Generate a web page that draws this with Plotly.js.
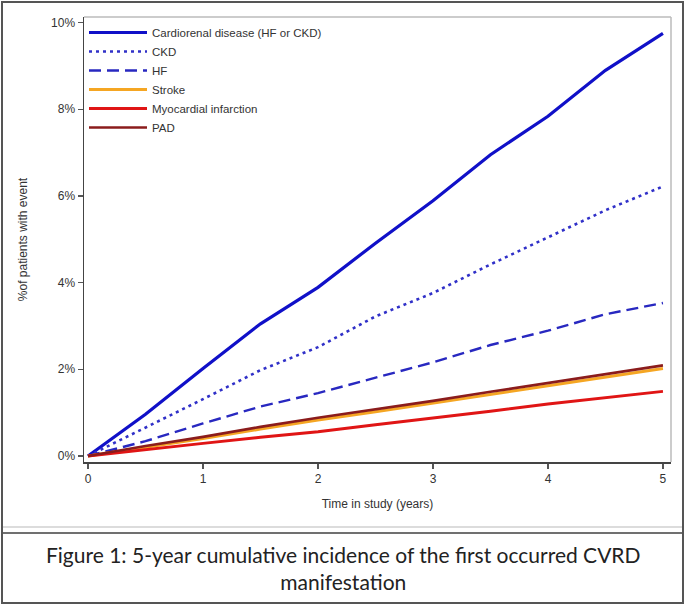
<!DOCTYPE html>
<html>
<head>
<meta charset="utf-8">
<script src="https://cdn.plot.ly/plotly-3.0.1.min.js"></script>
<style>html,body{margin:0;padding:0;background:#fff;}#chart{width:685px;height:605px;}</style>
</head>
<body>
<div id="chart"></div>
<script>
// Data (years, % of patients with event)
var years = [0, 0.5, 1, 1.5, 2, 2.5, 3, 3.5, 4, 4.5, 5];
var cardiorenal = [0, 0.96, 2.02, 3.05, 3.89, 4.91, 5.89, 6.95, 7.84, 8.90, 9.75];
var ckd = [0, 0.65, 1.31, 1.98, 2.51, 3.22, 3.76, 4.42, 5.04, 5.67, 6.22];
var hf = [0, 0.34, 0.75, 1.14, 1.45, 1.80, 2.16, 2.56, 2.89, 3.27, 3.53];
var stroke = [0, 0.20, 0.40, 0.62, 0.83, 1.02, 1.22, 1.42, 1.62, 1.82, 2.02];
var mi = [0, 0.15, 0.29, 0.43, 0.56, 0.72, 0.87, 1.03, 1.20, 1.35, 1.49];
var pad = [0, 0.23, 0.44, 0.67, 0.88, 1.07, 1.27, 1.48, 1.68, 1.89, 2.09];
var seriesNames = ['Cardiorenal disease (HF or CKD)', 'CKD', 'HF', 'Stroke', 'Myocardial infarction', 'PAD'];
var yTicks = [0, 2, 4, 6, 8, 10];
var xTicks = [0, 1, 2, 3, 4, 5];
var xTitle = 'Time in study (years)';
var yTitle = '%of patients with event';
var captionText = 'Figure 1: 5-year cumulative incidence of the first occurred CVRD<br>manifestation';

var chartFont = '"Liberation Sans Narrow", "Arial Narrow", "Liberation Sans", Arial, sans-serif';

var traces = [
  {x: years, y: cardiorenal, name: seriesNames[0], line: {color: '#1010c8', width: 3.2}},
  {x: years, y: ckd, name: seriesNames[1], line: {color: '#3030c8', width: 2.6, dash: '3px,4px'}},
  {x: years, y: hf, name: seriesNames[2], line: {color: '#2828c0', width: 2.4, dash: '12px,6px'}},
  {x: years, y: stroke, name: seriesNames[3], line: {color: '#f5a623', width: 3}},
  {x: years, y: mi, name: seriesNames[4], line: {color: '#e01515', width: 3}},
  {x: years, y: pad, name: seriesNames[5], line: {color: '#8b1c1c', width: 2.6}}
].map(function (t) { t.type = 'scatter'; t.mode = 'lines'; return t; });

// pixel -> paper helpers for decorations
var L = 84, R = 671, T = 17, B = 462;
function px(x) { return (x - L) / (R - L); }
function py(y) { return (B - y) / (B - T); }

var layout = {
  width: 685, height: 605,
  margin: {l: L, r: 685 - R, t: T, b: 605 - B, pad: 0},
  paper_bgcolor: '#ffffff', plot_bgcolor: '#ffffff',
  font: {family: chartFont, size: 12, color: '#333'},
  showlegend: true,
  legend: {
    x: px(84), y: py(18), xanchor: 'left', yanchor: 'top',
    bgcolor: 'rgba(0,0,0,0)', borderwidth: 0,
    font: {family: chartFont, size: 11.5, color: '#333'},
    itemwidth: 58, tracegroupgap: 0
  },
  xaxis: {
    range: [-0.035, 5.07], tickvals: xTicks, ticktext: xTicks.map(String),
    showgrid: false, zeroline: false, showline: true, linecolor: '#444', linewidth: 1.5,
    ticks: 'outside', ticklen: 5, tickcolor: '#555', tickwidth: 1.2,
    tickfont: {family: chartFont, size: 12, color: '#333'},
    title: {text: xTitle, font: {family: chartFont, size: 12, color: '#333'}, standoff: 14}
  },
  yaxis: {
    range: [-0.14, 10.13], tickvals: yTicks, ticktext: yTicks.map(function (v) { return v + '%'; }),
    showgrid: false, zeroline: false, showline: true, linecolor: '#444', linewidth: 1.5,
    ticks: 'outside', ticklen: 5, tickcolor: '#555', tickwidth: 1.2,
    tickfont: {family: chartFont, size: 12, color: '#333'},
    title: {text: yTitle, font: {family: chartFont, size: 12, color: '#333'}, standoff: 21}
  },
  shapes: [
    {type: 'line', xref: 'paper', yref: 'paper', x0: px(L), x1: px(R), y0: 1, y1: 1, line: {color: '#bbbbbb', width: 1.5}},
    {type: 'line', xref: 'paper', yref: 'paper', x0: 1, x1: 1, y0: 0, y1: 1, line: {color: '#bbbbbb', width: 1.5}},
    {type: 'line', xref: 'paper', yref: 'paper', x0: px(3), x1: px(683), y0: py(527), y1: py(527), line: {color: '#d0d0d0', width: 1.5}},
    {type: 'line', xref: 'paper', yref: 'paper', x0: px(3), x1: px(683), y0: py(533), y1: py(533), line: {color: '#404040', width: 1.5}},
    {type: 'rect', xref: 'paper', yref: 'paper', x0: px(2), x1: px(683), y0: py(2), y1: py(603), line: {color: '#555555', width: 2}}
  ],
  annotations: [
    {xref: 'paper', yref: 'paper', x: px(343), y: py(568), xanchor: 'center', yanchor: 'middle',
     text: captionText, showarrow: false, align: 'center',
     font: {family: 'Lato, "Open Sans", sans-serif', size: 21, color: '#222'}}
  ]
};

Plotly.newPlot('chart', traces, layout, {displayModeBar: false, staticPlot: true});
</script>
</body>
</html>
